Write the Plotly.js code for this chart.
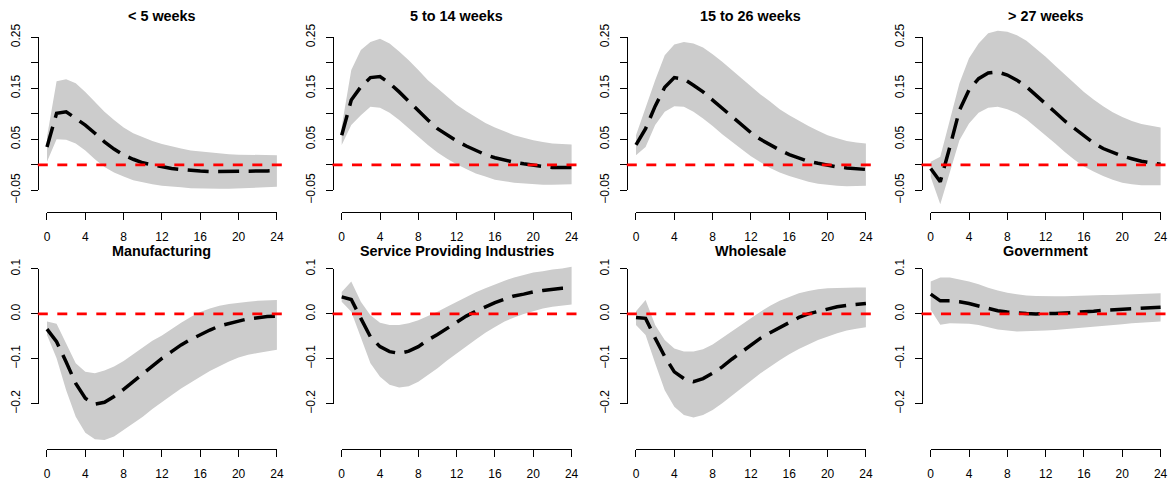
<!DOCTYPE html>
<html>
<head>
<meta charset="utf-8">
<script src="https://cdn.plot.ly/plotly-3.0.1.min.js"></script>
<style>html,body{margin:0;padding:0;background:#fff;}#chart{width:1170px;height:483px;}</style>
</head>
<body>
<div id="chart"></div>
<script>
// ---------------- data ----------------
const horizon = [0,1,2,3,4,5,6,7,8,9,10,11,12,13,14,15,16,17,18,19,20,21,22,23,24];

const panelTitles = ["&lt; 5 weeks", "5 to 14 weeks", "15 to 26 weeks", "&gt; 27 weeks",
                     "Manufacturing", "Service Providing Industries", "Wholesale", "Government"];

const xTickVals = [0,4,8,12,16,20,24];
const xTickText = ["0","4","8","12","16","20","24"];
const yTickValsTop = [-0.05,0,0.05,0.10,0.15,0.20,0.25];
const yTickTextTop = ["\u22120.05","","0.05","","0.15","","0.25"];
const yTickValsBot = [-0.2,-0.1,0.0,0.1];
const yTickTextBot = ["\u22120.2","\u22120.1","0.0","0.1"];

// < 5 weeks
const irf1   = [0.035,0.101,0.104,0.092,0.078,0.062,0.045,0.031,0.019,0.011,0.004,0.000,-0.004,-0.007,-0.009,-0.011,-0.012,-0.013,-0.013,-0.013,-0.013,-0.013,-0.012,-0.012,-0.011];
const upper1 = [0.055,0.164,0.168,0.160,0.143,0.124,0.104,0.088,0.073,0.062,0.054,0.047,0.041,0.036,0.032,0.028,0.026,0.024,0.022,0.021,0.020,0.020,0.019,0.019,0.019];
const lower1 = [0.006,0.050,0.049,0.042,0.028,0.011,-0.004,-0.015,-0.023,-0.030,-0.034,-0.038,-0.041,-0.043,-0.044,-0.046,-0.046,-0.047,-0.047,-0.047,-0.046,-0.046,-0.045,-0.044,-0.043];

// 5 to 14 weeks
const irf2   = [0.058,0.127,0.153,0.171,0.173,0.160,0.143,0.124,0.105,0.088,0.071,0.058,0.047,0.037,0.028,0.020,0.014,0.009,0.005,0.002,-0.001,-0.003,-0.005,-0.005,-0.005];
const upper2 = [0.075,0.186,0.225,0.241,0.247,0.238,0.222,0.205,0.186,0.166,0.150,0.134,0.118,0.105,0.093,0.082,0.073,0.065,0.058,0.053,0.048,0.045,0.042,0.041,0.040];
const lower2 = [0.039,0.078,0.097,0.114,0.112,0.102,0.088,0.071,0.055,0.039,0.024,0.012,0.001,-0.008,-0.017,-0.023,-0.029,-0.032,-0.035,-0.037,-0.038,-0.039,-0.039,-0.039,-0.038];

// 15 to 26 weeks
const irf3   = [0.039,0.071,0.115,0.152,0.171,0.168,0.156,0.143,0.127,0.111,0.094,0.078,0.063,0.050,0.039,0.029,0.020,0.013,0.007,0.003,-0.001,-0.004,-0.006,-0.008,-0.009];
const upper3 = [0.058,0.114,0.166,0.215,0.236,0.241,0.238,0.230,0.217,0.202,0.186,0.169,0.153,0.138,0.124,0.109,0.097,0.086,0.076,0.067,0.058,0.052,0.047,0.044,0.042];
const lower3 = [0.019,0.035,0.078,0.104,0.115,0.114,0.104,0.091,0.076,0.060,0.045,0.031,0.017,0.005,-0.006,-0.015,-0.022,-0.028,-0.033,-0.037,-0.039,-0.041,-0.042,-0.042,-0.041];

// > 27 weeks
const irf4   = [-0.007,-0.033,0.035,0.107,0.147,0.169,0.180,0.182,0.176,0.166,0.153,0.137,0.120,0.103,0.086,0.071,0.056,0.043,0.032,0.024,0.017,0.012,0.007,0.004,0.001];
const upper4 = [0.006,0.016,0.088,0.160,0.209,0.238,0.258,0.263,0.261,0.254,0.243,0.228,0.212,0.194,0.176,0.160,0.143,0.128,0.115,0.103,0.094,0.086,0.080,0.076,0.073];
const lower4 = [-0.024,-0.077,-0.017,0.048,0.081,0.102,0.112,0.114,0.109,0.101,0.089,0.074,0.058,0.042,0.025,0.010,-0.003,-0.013,-0.022,-0.029,-0.035,-0.038,-0.040,-0.040,-0.040];

// Manufacturing
const irf5   = [-0.034,-0.062,-0.107,-0.155,-0.188,-0.201,-0.197,-0.184,-0.168,-0.151,-0.132,-0.116,-0.099,-0.084,-0.069,-0.057,-0.046,-0.036,-0.027,-0.021,-0.016,-0.011,-0.008,-0.006,-0.005];
const upper5 = [-0.017,-0.022,-0.066,-0.110,-0.129,-0.132,-0.126,-0.117,-0.105,-0.090,-0.074,-0.060,-0.048,-0.033,-0.020,-0.007,0.004,0.012,0.018,0.022,0.025,0.027,0.029,0.030,0.031];
const lower5 = [-0.047,-0.099,-0.170,-0.229,-0.265,-0.279,-0.281,-0.273,-0.259,-0.244,-0.229,-0.212,-0.196,-0.181,-0.166,-0.153,-0.140,-0.127,-0.116,-0.106,-0.097,-0.091,-0.087,-0.083,-0.080];

// Service Providing Industries
const irf6   = [0.038,0.032,-0.010,-0.051,-0.073,-0.084,-0.088,-0.083,-0.073,-0.058,-0.046,-0.032,-0.017,-0.005,0.006,0.016,0.025,0.033,0.040,0.044,0.049,0.052,0.055,0.057,0.058];
const upper6 = [0.049,0.072,0.027,-0.003,-0.020,-0.025,-0.025,-0.021,-0.014,-0.005,0.005,0.016,0.027,0.038,0.048,0.057,0.066,0.074,0.081,0.087,0.092,0.095,0.099,0.101,0.105];
const lower6 = [0.027,0.005,-0.054,-0.110,-0.140,-0.158,-0.164,-0.161,-0.151,-0.136,-0.121,-0.104,-0.088,-0.072,-0.057,-0.042,-0.029,-0.017,-0.008,0.000,0.006,0.012,0.016,0.019,0.021];

// Wholesale
const irf7   = [-0.008,-0.010,-0.054,-0.095,-0.129,-0.144,-0.151,-0.144,-0.132,-0.118,-0.101,-0.086,-0.069,-0.054,-0.042,-0.030,-0.019,-0.008,0.000,0.006,0.012,0.016,0.019,0.021,0.023];
const upper7 = [0.006,0.031,-0.025,-0.058,-0.077,-0.084,-0.084,-0.079,-0.068,-0.054,-0.039,-0.025,-0.010,0.005,0.018,0.029,0.038,0.046,0.051,0.055,0.057,0.058,0.059,0.059,0.059];
const lower7 = [-0.025,-0.047,-0.110,-0.170,-0.207,-0.225,-0.231,-0.225,-0.214,-0.199,-0.183,-0.166,-0.149,-0.132,-0.118,-0.103,-0.090,-0.078,-0.068,-0.058,-0.051,-0.043,-0.037,-0.033,-0.030];

// Government
const irf8   = [0.044,0.029,0.029,0.027,0.023,0.017,0.012,0.007,0.004,0.002,0.001,0.000,0.000,0.001,0.002,0.003,0.005,0.006,0.008,0.009,0.011,0.012,0.013,0.014,0.015];
const upper8 = [0.072,0.081,0.081,0.077,0.072,0.066,0.058,0.052,0.047,0.044,0.041,0.040,0.039,0.039,0.039,0.040,0.041,0.041,0.042,0.042,0.043,0.044,0.045,0.045,0.046];
const lower8 = [0.009,-0.024,-0.021,-0.021,-0.022,-0.025,-0.030,-0.035,-0.037,-0.039,-0.039,-0.038,-0.037,-0.036,-0.035,-0.032,-0.030,-0.028,-0.026,-0.025,-0.023,-0.021,-0.020,-0.018,-0.017];

const irfs   = [irf1, irf2, irf3, irf4, irf5, irf6, irf7, irf8];
const uppers = [upper1, upper2, upper3, upper4, upper5, upper6, upper7, upper8];
const lowers = [lower1, lower2, lower3, lower4, lower5, lower6, lower7, lower8];

// ---------------- layout geometry ----------------
const W = 1170, H = 483;
const colLeft = [37.8, 332.5, 626.8, 921.5];
const plotW = 248.3;
const rowTop = [23, 260];
const rowBottom = [211.6, 448.5];
const XRANGE = [-0.96, 24.96];
const YRANGE = [[-0.0916, 0.278], [-0.2998, 0.120]];
const YTICKRANGE = [[-0.05, 0.25], [-0.2, 0.1]];
const titleY = [16, 251];

const FONT = 'Liberation Sans, Arial, Helvetica, sans-serif';

const traces = [];
const layout = {
  width: W, height: H,
  margin: {l: 0, r: 0, t: 0, b: 0, pad: 0},
  paper_bgcolor: '#ffffff', plot_bgcolor: 'rgba(0,0,0,0)',
  showlegend: false,
  shapes: [], annotations: [],
  font: {family: FONT, color: '#000'}
};

function sub(d, lo, hi, a, b) {
  const f0 = (a - lo) / (hi - lo), f1 = (b - lo) / (hi - lo);
  return [d[0] + f0 * (d[1] - d[0]), d[0] + f1 * (d[1] - d[0])];
}

for (let p = 0; p < 8; p++) {
  const row = p < 4 ? 0 : 1;
  const col = p % 4;
  const n = p + 1, m = p + 9;
  const sx = n === 1 ? '' : String(n), sy = sx;
  const vx = String(m), vy = String(m);
  const xd = [colLeft[col] / W, (colLeft[col] + plotW) / W];
  const yd = [1 - rowBottom[row] / H, 1 - rowTop[row] / H];
  const yr = YRANGE[row];

  layout['xaxis' + sx] = {domain: xd, range: XRANGE, visible: false, anchor: 'y' + sy, fixedrange: true};
  layout['yaxis' + sy] = {domain: yd, range: yr, visible: false, anchor: 'x' + sx, fixedrange: true};

  const tickAx = {
    showline: true, linecolor: '#000', linewidth: 1,
    ticks: 'outside', ticklen: 7, tickwidth: 1, tickcolor: '#000',
    showgrid: false, zeroline: false, fixedrange: true,
    tickfont: {family: FONT, size: 12, color: '#000'},
    tickmode: 'array', anchor: 'free'
  };
  layout['xaxis' + vx] = Object.assign({}, tickAx, {
    domain: sub(xd, XRANGE[0], XRANGE[1], 0, 24),
    range: [0, 24], position: yd[0],
    tickvals: xTickVals, ticktext: xTickText,
    ticklabelstandoff: 7
  });
  const ytr = YTICKRANGE[row];
  layout['yaxis' + vy] = Object.assign({}, tickAx, {
    domain: sub(yd, yr[0], yr[1], ytr[0], ytr[1]),
    range: ytr, position: xd[0], tickangle: -90,
    tickvals: row === 0 ? yTickValsTop : yTickValsBot,
    ticktext: row === 0 ? yTickTextTop : yTickTextBot,
    ticklabelstandoff: 6
  });

  // empty trace so the tick-axis subplot exists
  traces.push({type: 'scatter', x: [], y: [], xaxis: 'x' + vx, yaxis: 'y' + vy, hoverinfo: 'skip'});

  // confidence band
  traces.push({
    type: 'scatter', mode: 'lines',
    x: horizon.concat(horizon.slice().reverse()),
    y: uppers[p].concat(lowers[p].slice().reverse()),
    fill: 'toself', fillcolor: '#CCCCCC',
    line: {width: 0, color: 'rgba(0,0,0,0)'},
    xaxis: 'x' + sx, yaxis: 'y' + sy, hoverinfo: 'skip'
  });
  // impulse response
  traces.push({
    type: 'scatter', mode: 'lines',
    x: horizon, y: irfs[p],
    line: {color: '#000000', width: 3.5, dash: '21px,9.5px'},
    xaxis: 'x' + sx, yaxis: 'y' + sy
  });

  // zero line (abline h=0)
  layout.shapes.push({
    type: 'line', xref: 'x' + sx + ' domain', yref: 'y' + sy,
    x0: 0, x1: 1, y0: 0, y1: 0, layer: 'above',
    line: {color: '#FF0000', width: 2.7, dash: '10px,9.5px'}
  });

  // panel title
  layout.annotations.push({
    xref: 'paper', yref: 'paper',
    x: (xd[0] + xd[1]) / 2, y: 1 - titleY[row] / H,
    xanchor: 'center', yanchor: 'middle', showarrow: false,
    text: panelTitles[p],
    font: {family: FONT, size: 14.4, color: '#000', weight: 'bold'}
  });
}

Plotly.newPlot('chart', traces, layout, {staticPlot: true, displayModeBar: false});
</script>
</body>
</html>
